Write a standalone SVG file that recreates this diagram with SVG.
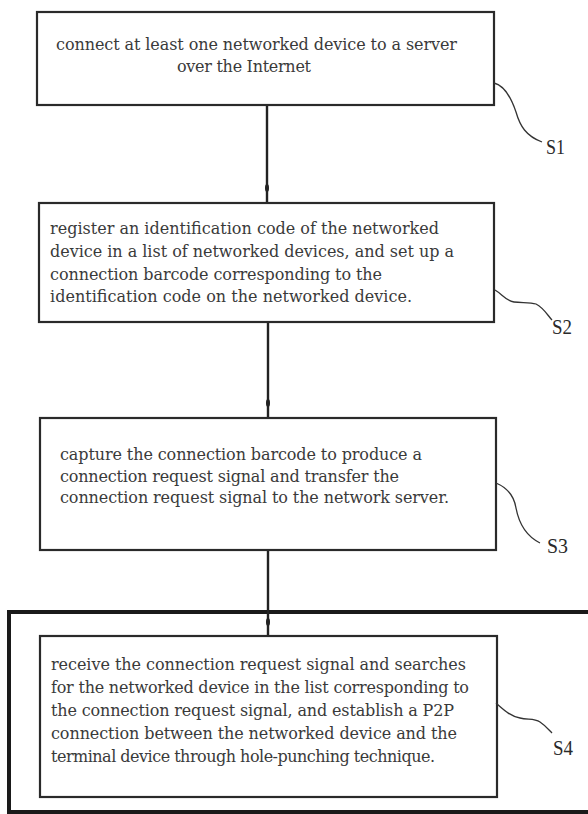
<svg xmlns="http://www.w3.org/2000/svg" width="588" height="814" viewBox="0 0 588 814">
<style>
.box{fill:#fff;stroke:#2a2a2a;stroke-width:2.2}
.outer{fill:none;stroke:#1a1a1a;stroke-width:4}
.t{font-family:"DejaVu Serif","Liberation Serif",serif;font-size:16px;fill:#3a3a3a}
.lbl{font-family:"Liberation Serif","DejaVu Serif",serif;font-size:21px;fill:#2a2a2a}
.con{stroke:#222;stroke-width:2.4;fill:none}
.lead{stroke:#333;stroke-width:1.3;fill:none}
.dot{fill:#222}
</style>
<rect width="588" height="814" fill="#fff"/>
<g id="frame"><rect class="outer" x="9" y="612" width="584" height="200"/></g>
<g id="connectors">
<line class="con" x1="267" y1="105" x2="267" y2="203"/>
<ellipse class="dot" cx="267" cy="188" rx="2" ry="4"/>
<line class="con" x1="268" y1="322" x2="268" y2="418"/>
<ellipse class="dot" cx="268" cy="403" rx="2" ry="4"/>
<line class="con" x1="268" y1="550" x2="268" y2="636"/>
<ellipse class="dot" cx="268" cy="622" rx="2" ry="4"/>
</g>
<g id="S1">
<rect class="box" x="37" y="12" width="457" height="93"/>
<text class="t" x="56" y="50" textLength="401" lengthAdjust="spacing">connect at least one networked device to a server</text>
<text class="t" x="177" y="72" textLength="134" lengthAdjust="spacing">over the Internet</text>
<path class="lead" d="M494,83 C506,86 512,100 516,112 C520,126 526,136 542,142"/>
<text class="lbl" x="546" y="154" textLength="19" lengthAdjust="spacingAndGlyphs">S1</text>
</g>
<g id="S2">
<rect class="box" x="39" y="203" width="455" height="119"/>
<text class="t" x="50" y="234" textLength="389" lengthAdjust="spacing">register an identification code of the networked</text>
<text class="t" x="50" y="257" textLength="404" lengthAdjust="spacing">device in a list of networked devices, and set up a</text>
<text class="t" x="50" y="280" textLength="332" lengthAdjust="spacing">connection barcode corresponding to the</text>
<text class="t" x="50" y="302" textLength="362" lengthAdjust="spacing">identification code on the networked device.</text>
<path class="lead" d="M495,290 C502,294 506,301 514,302 C522,303 530,302 536,304 C544,308 548,316 552,320"/>
<text class="lbl" x="552" y="334" textLength="20" lengthAdjust="spacingAndGlyphs">S2</text>
</g>
<g id="S3">
<rect class="box" x="40" y="418" width="456" height="132"/>
<text class="t" x="60" y="460" textLength="362" lengthAdjust="spacing">capture the connection barcode to produce a</text>
<text class="t" x="60" y="482" textLength="339" lengthAdjust="spacing">connection request signal and transfer the</text>
<text class="t" x="60" y="503" textLength="389" lengthAdjust="spacing">connection request signal to the network server.</text>
<path class="lead" d="M496,483 C508,488 514,496 516,508 C519,524 526,536 540,543"/>
<text class="lbl" x="547" y="553" textLength="21" lengthAdjust="spacingAndGlyphs">S3</text>
</g>
<g id="S4">
<rect class="box" x="40" y="636" width="457" height="161"/>
<text class="t" x="51" y="670" textLength="415" lengthAdjust="spacing">receive the connection request signal and searches</text>
<text class="t" x="51" y="693" textLength="418" lengthAdjust="spacing">for the networked device in the list corresponding to</text>
<text class="t" x="51" y="716" textLength="403" lengthAdjust="spacing">the connection request signal, and establish a P2P</text>
<text class="t" x="51" y="739" textLength="406" lengthAdjust="spacing">connection between the networked device and the</text>
<text class="t" x="51" y="762" textLength="384" lengthAdjust="spacing">terminal device through hole-punching technique.</text>
<path class="lead" d="M496,703 C504,710 510,716 520,718 C528,720 534,718 540,722 C546,726 549,730 552,733"/>
<text class="lbl" x="553" y="755" textLength="20" lengthAdjust="spacingAndGlyphs">S4</text>
</g>
</svg>
